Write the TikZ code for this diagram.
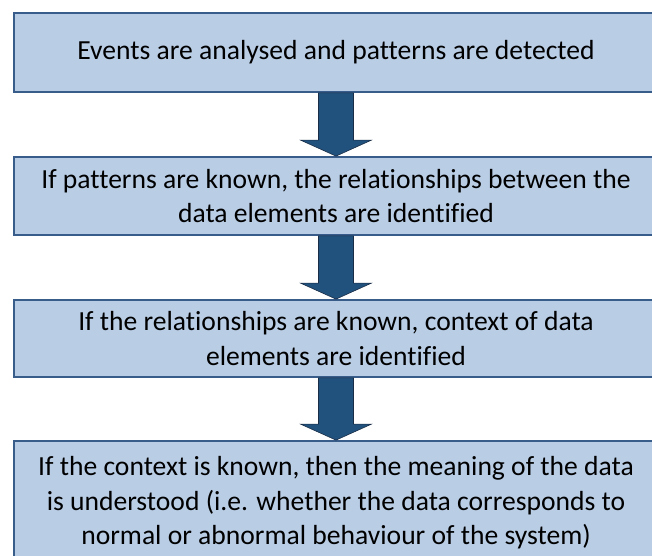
\documentclass[tikz,border=0pt]{standalone}
\usepackage{fontspec}
\setmainfont{Carlito}[Ligatures=NoCommon]
\usetikzlibrary{calc}

\definecolor{boxfill}{RGB}{185,205,229}
\definecolor{boxline}{RGB}{56,93,138}
\definecolor{arrfill}{RGB}{33,82,126}
\definecolor{arrline}{RGB}{25,45,70}

\tikzset{
  stage/.style={draw=boxline, line width=1.8pt, fill=boxfill, minimum width=644pt,
    align=center, font=\fontsize{27.6}{34.5}\selectfont, inner sep=0pt},
  flowarrow/.style={fill=arrfill, draw=arrline, line width=0.6pt}
}

% block arrow from one box down to the next
\newcommand\blockarrow[2]{%
  \path[flowarrow] let \p1=(#1.south), \p2=(#2.north) in
    (\x1-17.5pt,\y1) -- (\x1+17.5pt,\y1) -- (\x1+17.5pt,\y2+16pt)
    -- (\x1+35.5pt,\y2+16pt) -- (\x1,\y2) -- (\x1-35.5pt,\y2+16pt)
    -- (\x1-17.5pt,\y2+16pt) -- cycle;}

\begin{document}
\begin{tikzpicture}[x=1pt,y=1pt]
\useasboundingbox (0,0) rectangle (652,555);
\clip (0,0) rectangle (652,555);

\node [stage, minimum height=79pt] (events) at (336,502.5)
  {Events are analysed and patterns are detected};
\node [stage, minimum height=78pt] (patterns) at (336,359)
  {If patterns are known, the relationships between the\\ data elements are identified};
\node [stage, minimum height=77pt] (relations) at (336,216.5)
  {If the relationships are known, context of data\\ elements are identified};
\node [stage, minimum height=124pt] (context) at (336,52)
  {If the context is known, then the meaning of the data\\ is understood (i.e. whether the data corresponds to\\ normal or abnormal behaviour of the system)};

\blockarrow{events}{patterns}
\blockarrow{patterns}{relations}
\blockarrow{relations}{context}
\end{tikzpicture}
\end{document}
